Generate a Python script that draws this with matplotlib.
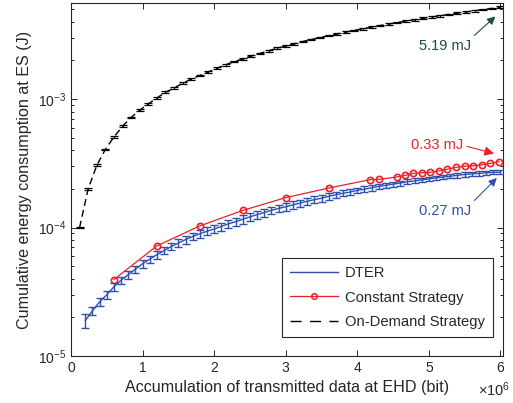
import numpy as np
import matplotlib
matplotlib.use('Agg')
import matplotlib.pyplot as plt
from matplotlib.lines import Line2D
from matplotlib.ticker import FixedLocator, FuncFormatter, LogLocator

plt.rcParams['font.family'] = ['Liberation Sans', 'DejaVu Sans']
plt.rcParams['mathtext.fontset'] = 'custom'
plt.rcParams['mathtext.rm'] = 'Liberation Sans'
plt.rcParams['mathtext.it'] = 'Liberation Sans'

# DTER, x in bits
dter_x = np.arange(2, 61) * 1e5
dter_y = [1.89e-5, 2.25e-5, 2.64e-5, 3.00e-5, 3.46e-5, 3.89e-5, 4.30e-5, 4.74e-5, 5.23e-5, 5.67e-5,
          6.15e-5, 6.61e-5, 7.11e-5, 7.57e-5, 8.06e-5, 8.51e-5, 8.93e-5, 9.36e-5, 9.73e-5, 1.02e-4,
          1.07e-4, 1.11e-4, 1.16e-4, 1.21e-4, 1.26e-4, 1.31e-4, 1.36e-4, 1.41e-4, 1.45e-4, 1.50e-4,
          1.55e-4, 1.60e-4, 1.65e-4, 1.69e-4, 1.75e-4, 1.80e-4, 1.85e-4, 1.89e-4, 1.95e-4, 1.99e-4,
          2.04e-4, 2.09e-4, 2.13e-4, 2.18e-4, 2.22e-4, 2.27e-4, 2.31e-4, 2.35e-4, 2.39e-4, 2.44e-4,
          2.47e-4, 2.51e-4, 2.55e-4, 2.59e-4, 2.62e-4, 2.64e-4, 2.67e-4, 2.69e-4, 2.70e-4]
dter_err = [2.5e-6, 1.6e-6, 1.8e-6, 2.0e-6, 2.3e-6, 2.6e-6, 2.9e-6, 3.2e-6, 3.5e-6, 3.8e-6,
            4.1e-6, 4.4e-6, 4.8e-6, 5.1e-6, 5.5e-6, 5.8e-6, 6.2e-6, 6.6e-6, 7.0e-6, 7.4e-6,
            7.8e-6, 8.2e-6, 8.5e-6, 8.8e-6, 9.0e-6, 9.2e-6, 9.4e-6, 9.6e-6, 9.8e-6, 1.0e-5,
            1.0e-5, 1.0e-5, 1.0e-5, 1.0e-5, 1.0e-5, 1.0e-5, 1.0e-5, 1.0e-5, 1.0e-5, 1.0e-5,
            1.0e-5, 1.0e-5, 1.0e-5, 1.0e-5, 1.0e-5, 1.0e-5, 1.0e-5, 1.0e-5, 1.0e-5, 1.0e-5,
            1.0e-5, 1.0e-5, 1.0e-5, 1.0e-5, 1.0e-5, 1.0e-5, 1.0e-5, 1.0e-5, 1.0e-5]

# Constant strategy
const_x = [0.6e6, 1.2e6, 1.8e6, 2.4e6, 3.0e6, 3.6e6, 4.18e6, 4.3e6, 4.56e6, 4.67e6, 4.78e6,
           4.9e6, 5.02e6, 5.14e6, 5.25e6, 5.38e6, 5.5e6, 5.61e6, 5.74e6, 5.86e6, 5.98e6]
const_y = [3.94e-5, 7.2e-5, 1.03e-4, 1.36e-4, 1.71e-4, 2.03e-4, 2.36e-4, 2.37e-4, 2.48e-4, 2.55e-4,
           2.64e-4, 2.67e-4, 2.69e-4, 2.76e-4, 2.84e-4, 2.94e-4, 3.00e-4, 3.02e-4, 3.08e-4, 3.16e-4,
           3.26e-4]

# On-demand strategy
ond_x = np.arange(1, 51) * 1.2e5
ond_y = np.array([0.100, 0.200, 0.305, 0.406, 0.507, 0.615, 0.719, 0.820, 0.919, 1.02,
                  1.13, 1.22, 1.33, 1.43, 1.53, 1.63, 1.74, 1.85, 1.96, 2.05,
                  2.17, 2.27, 2.38, 2.49, 2.59, 2.70, 2.81, 2.91, 3.01, 3.12,
                  3.22, 3.33, 3.43, 3.53, 3.64, 3.74, 3.84, 3.95, 4.05, 4.15,
                  4.26, 4.36, 4.46, 4.57, 4.67, 4.77, 4.88, 4.98, 5.08, 5.19]) * 1e-3
ond_err = np.array([0.0015, 0.003, 0.005, 0.006, 0.008, 0.009, 0.011, 0.012, 0.014, 0.015,
                    0.017, 0.018, 0.020, 0.021, 0.023, 0.024, 0.026, 0.028, 0.029, 0.031,
                    0.033, 0.034, 0.036, 0.037, 0.039, 0.040, 0.042, 0.044, 0.045, 0.047,
                    0.048, 0.050, 0.051, 0.053, 0.055, 0.056, 0.058, 0.059, 0.061, 0.062,
                    0.064, 0.065, 0.067, 0.069, 0.070, 0.072, 0.073, 0.075, 0.076, 0.078]) * 1e-3

xticks = [0, 1e6, 2e6, 3e6, 4e6, 5e6, 6e6]
xtick_labels = ['0', '1', '2', '3', '4', '5', '6']

blue = '#3050ad'
red = '#ee1f26'
green = '#1d4f35'
grey = '#262626'

fig = plt.figure(figsize=(5.13, 4.03), dpi=100)
ax = fig.add_axes([71 / 513, 1 - 356 / 403, 432.3 / 513, 353 / 403])

ax.errorbar(ond_x, ond_y, yerr=ond_err, color='black', lw=1.0, dashes=(5, 3),
            capsize=2.8, elinewidth=0.9, capthick=0.9, zorder=2)
ax.plot(const_x, const_y, color=red, lw=0.9, marker='o', ms=4.5, mfc='none', mew=1.2, zorder=3)
ax.errorbar(dter_x, dter_y, yerr=dter_err, color=blue, lw=1.0,
            capsize=2.8, elinewidth=1.0, capthick=1.0, zorder=4)

ax.set_yscale('log')
ax.set_xlim(0, 6.04e6)
ax.set_ylim(1e-5, 5.6e-3)
ax.xaxis.set_major_locator(FixedLocator(xticks))
ax.xaxis.set_major_formatter(FuncFormatter(lambda v, p: xtick_labels[xticks.index(v)] if v in xticks else ''))
ax.yaxis.set_major_locator(LogLocator(base=10, numticks=10))
ax.yaxis.set_minor_locator(LogLocator(base=10, subs=np.arange(2, 10), numticks=10))
ax.tick_params(which='both', direction='in', top=True, right=True, color=grey, labelcolor=grey,
               labelsize=10, width=0.7)
ax.tick_params(which='major', length=4)
ax.tick_params(which='minor', length=2.2)
for s in ax.spines.values():
    s.set_color(grey)
    s.set_linewidth(0.8)

ax.set_xlabel('Accumulation of transmitted data at EHD (bit)', fontsize=11.6, color=grey, labelpad=4)
ax.set_ylabel('Cumulative energy consumption at ES (J)', fontsize=11.6, color=grey, labelpad=4)
fig.text(510 / 513, 1 - 390 / 403, r'$\times10^{6}$', ha='right', va='center',
         fontsize=10.5, color=grey)

ax.annotate('5.19 mJ', xy=(5.93e6, 4.4e-3), xytext=(5.22e6, 2.6e-3), fontsize=10.5, color=green,
            ha='center', va='center',
            arrowprops=dict(arrowstyle='-|>', color=green, lw=0.8, mutation_scale=12,
                            relpos=(1.0, 1.0), shrinkA=1, shrinkB=0))
ax.annotate('0.33 mJ', xy=(5.91e6, 3.77e-4), xytext=(5.11e6, 4.37e-4), fontsize=10.5, color=red,
            ha='center', va='center',
            arrowprops=dict(arrowstyle='-|>', color=red, lw=0.8, mutation_scale=14,
                            relpos=(1.0, 0.5), shrinkA=1, shrinkB=0))
ax.annotate('0.27 mJ', xy=(5.95e6, 2.43e-4), xytext=(5.22e6, 1.34e-4), fontsize=10.5, color=blue,
            ha='center', va='center',
            arrowprops=dict(arrowstyle='-|>', color=blue, lw=0.8, mutation_scale=12,
                            relpos=(1.0, 1.0), shrinkA=1, shrinkB=0))

handles = [Line2D([], [], color=blue, lw=1.0),
           Line2D([], [], color=red, lw=0.9, marker='o', ms=4, mfc='none', mew=1.1),
           Line2D([], [], color='black', lw=1.0, dashes=(8, 6))]
labels = ['DTER', 'Constant Strategy', 'On-Demand Strategy']
leg = ax.legend(handles, labels, loc='lower right', bbox_to_anchor=(0.976, 0.054), borderaxespad=0,
                fontsize=10.6, handlelength=3.3, handletextpad=0.45, labelspacing=0.7,
                fancybox=False, framealpha=1, edgecolor=grey, borderpad=0.55)
leg.get_frame().set_linewidth(0.8)
for t in leg.get_texts():
    t.set_color(grey)

fig.savefig('out.png', dpi=100)
